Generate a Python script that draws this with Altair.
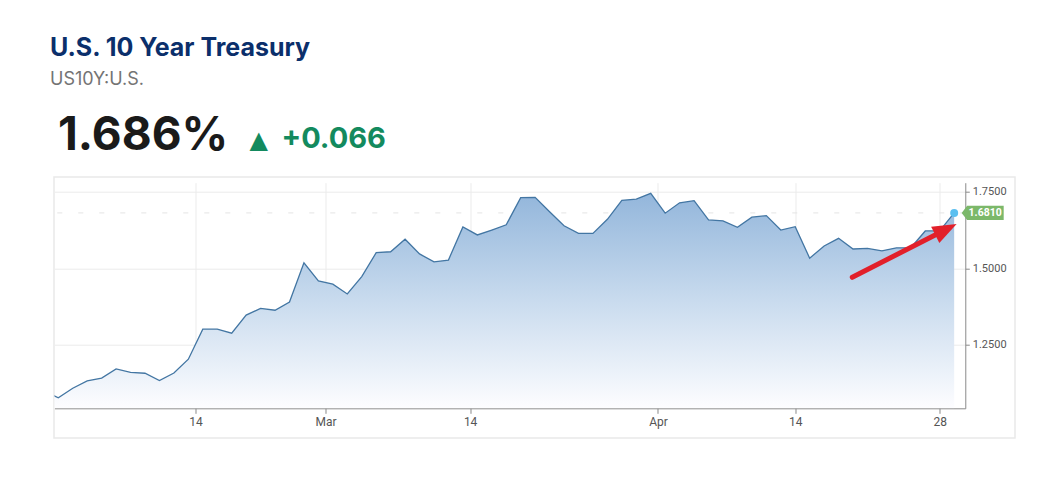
import altair as alt
import pandas as pd

# ---- text content ----
title_text = "U.S. 10 Year Treasury"
symbol_text = "US10Y:U.S."
price_text = "1.686%"
change_arrow = "▲"
change_text = "+0.066"
last_label = "1.6810"

# ---- series: trading-day index and yield values ----
day_index = list(range(-1, 63))
yields = [
    1.098,
    1.077, 1.108, 1.132, 1.141, 1.171, 1.160, 1.157, 1.133, 1.158, 1.203,
    1.301, 1.301, 1.288, 1.347, 1.369, 1.363, 1.390, 1.518, 1.459, 1.448,
    1.416, 1.473, 1.551, 1.554, 1.595, 1.547, 1.521, 1.527, 1.635, 1.609,
    1.625, 1.642, 1.731, 1.732, 1.685, 1.639, 1.614, 1.614, 1.660, 1.722,
    1.726, 1.745, 1.680, 1.714, 1.721, 1.658, 1.655, 1.634, 1.667, 1.672,
    1.625, 1.636, 1.533, 1.573, 1.598, 1.563, 1.565, 1.557, 1.567, 1.567,
    1.622, 1.622, 1.681,
]

# ---- axis ticks ----
x_tick_pos = [9.5, 18.5, 28.5, 41.5, 51, 61]
x_tick_labels = ["14", "Mar", "14", "Apr", "14", "28"]
y_ticks = [1.25, 1.5, 1.75]
y_min, y_max = 1.0425, 1.7797

# ---- last value marker and annotation arrow (data space) ----
last_idx = [62]
last_val = [1.681]
arrow_tail = [54.95, 1.4706]
arrow_head = [61.43, 1.627]

df = pd.DataFrame({"i": day_index, "v": yields})
last_df = pd.DataFrame({"i": last_idx, "v": last_val, "t": [last_label]})
arrow_df = pd.DataFrame({"x": [arrow_tail[0]], "y": [arrow_tail[1]],
                         "x2": [arrow_head[0]], "y2": [arrow_head[1]]})
head_df = pd.DataFrame({"x": [arrow_head[0]], "y": [arrow_head[1]]})

label_expr = "''"
for p, l in reversed(list(zip(x_tick_pos, x_tick_labels))):
    label_expr = f"datum.value == {p} ? '{l}' : ({label_expr})"

W, H = 910.8, 225.6
xscale = alt.Scale(domain=[-0.263, 62.77], nice=False, zero=False)
yscale = alt.Scale(domain=[y_min, y_max], nice=False, zero=False)

x_axis = alt.Axis(values=x_tick_pos, labelExpr=label_expr, title=None, grid=True,
                  gridColor="#ebebeb", domainColor="#8a8a8a", tickColor="#8a8a8a",
                  tickSize=5, labelPadding=3, labelFont="Roboto", labelFontSize=12,
                  labelColor="#555555", labelFlush=False)
y_axis = alt.Axis(orient="right", values=y_ticks, format=".4f", title=None, grid=True,
                  gridColor="#ebebeb", domainColor="#8a8a8a", tickColor="#8a8a8a",
                  tickSize=4, labelPadding=3, labelFont="Roboto", labelFontSize=11,
                  labelColor="#555555")

one = pd.DataFrame({"k": [0]})

card = alt.Chart(one).mark_rect(fillOpacity=0, stroke="#e9e9e9", strokeWidth=1.5).encode(
    x=alt.value(-0.5), x2=alt.value(960.5), y=alt.value(-5.7), y2=alt.value(255.3))

ref = alt.Chart(last_df).mark_rule(color="#e4e4e4", strokeDash=[5, 16], strokeWidth=1).encode(
    y=alt.Y("v:Q", scale=yscale))

grad = alt.Gradient(gradient="linear",
                    stops=[alt.GradientStop(color="#fdfdff", offset=0),
                           alt.GradientStop(color="#c9dbee", offset=0.5),
                           alt.GradientStop(color="#93b6db", offset=1)],
                    x1=1, x2=1, y1=1, y2=0)

area = alt.Chart(df).mark_area(clip=True, color=grad).encode(
    x=alt.X("i:Q", scale=xscale, axis=x_axis),
    y=alt.Y("v:Q", scale=yscale, axis=y_axis),
    y2=alt.datum(y_min))

line = alt.Chart(df).mark_line(clip=True, color="#4376a3", strokeWidth=1.3).encode(
    x=alt.X("i:Q", scale=xscale), y=alt.Y("v:Q", scale=yscale))

arrow = alt.Chart(arrow_df).mark_rule(color="#e2202a", strokeWidth=5, strokeCap="round").encode(
    x=alt.X("x:Q", scale=xscale), y=alt.Y("y:Q", scale=yscale), x2="x2:Q", y2="y2:Q")

head = alt.Chart(head_df).mark_point(shape="M 1 0 L -1 -0.75 L -1 0.75 Z", filled=True,
                                     size=576, angle=333, color="#e2202a", opacity=1).encode(
    x=alt.X("x:Q", scale=xscale), y=alt.Y("y:Q", scale=yscale))

dot = alt.Chart(last_df).mark_point(filled=True, size=64, color="#5bbff0", opacity=1).encode(
    x=alt.X("i:Q", scale=xscale), y=alt.Y("v:Q", scale=yscale))

tag = alt.Chart(last_df).mark_point(shape="M -1 0 L -0.74 -0.34 L 1 -0.34 L 1 0.34 L -0.74 0.34 Z",
                                    filled=True, size=1764, color="#7cb86a", opacity=1,
                                    xOffset=28.5).encode(
    x=alt.X("i:Q", scale=xscale), y=alt.Y("v:Q", scale=yscale))

tag_text = alt.Chart(last_df).mark_text(color="white", fontSize=10.5, fontWeight="bold",
                                        font="Roboto", xOffset=31, align="center",
                                        baseline="middle").encode(
    x=alt.X("i:Q", scale=xscale), y=alt.Y("v:Q", scale=yscale), text="t:N")


def header(txt, x, y, size, color, weight="bold", font="Inter"):
    return alt.Chart(pd.DataFrame({"t": [txt]})).mark_text(
        align="left", baseline="alphabetic", fontSize=size, fontWeight=weight,
        font=font, color=color).encode(x=alt.value(x), y=alt.value(y), text="t:N")


h_title = header(title_text, -4.5, -126.7, 25, "#0b2f6b")
h_sym = header(symbol_text, -4.5, -97.7, 18, "#747474", weight="normal")
h_price = header(price_text, 3.5, -32.7, 46, "#1a1a1a")
h_arrow = header(change_arrow, 195, -35, 24, "#138a5e", weight="normal", font="DejaVu Sans")
h_change = header(change_text, 227, -34.4, 29, "#138a5e")

chart = alt.layer(card, ref, area, line, arrow, head, dot, tag, tag_text,
                  h_title, h_sym, h_price, h_arrow, h_change).properties(
    width=W, height=H,
    autosize=alt.AutoSizeParams(type="none"),
    padding={"left": 46.5, "top": 174.7, "right": 80, "bottom": 50},
    background="white",
).configure_view(stroke=None)

chart.save("out.html", embed_options={"renderer": "svg", "actions": False})
